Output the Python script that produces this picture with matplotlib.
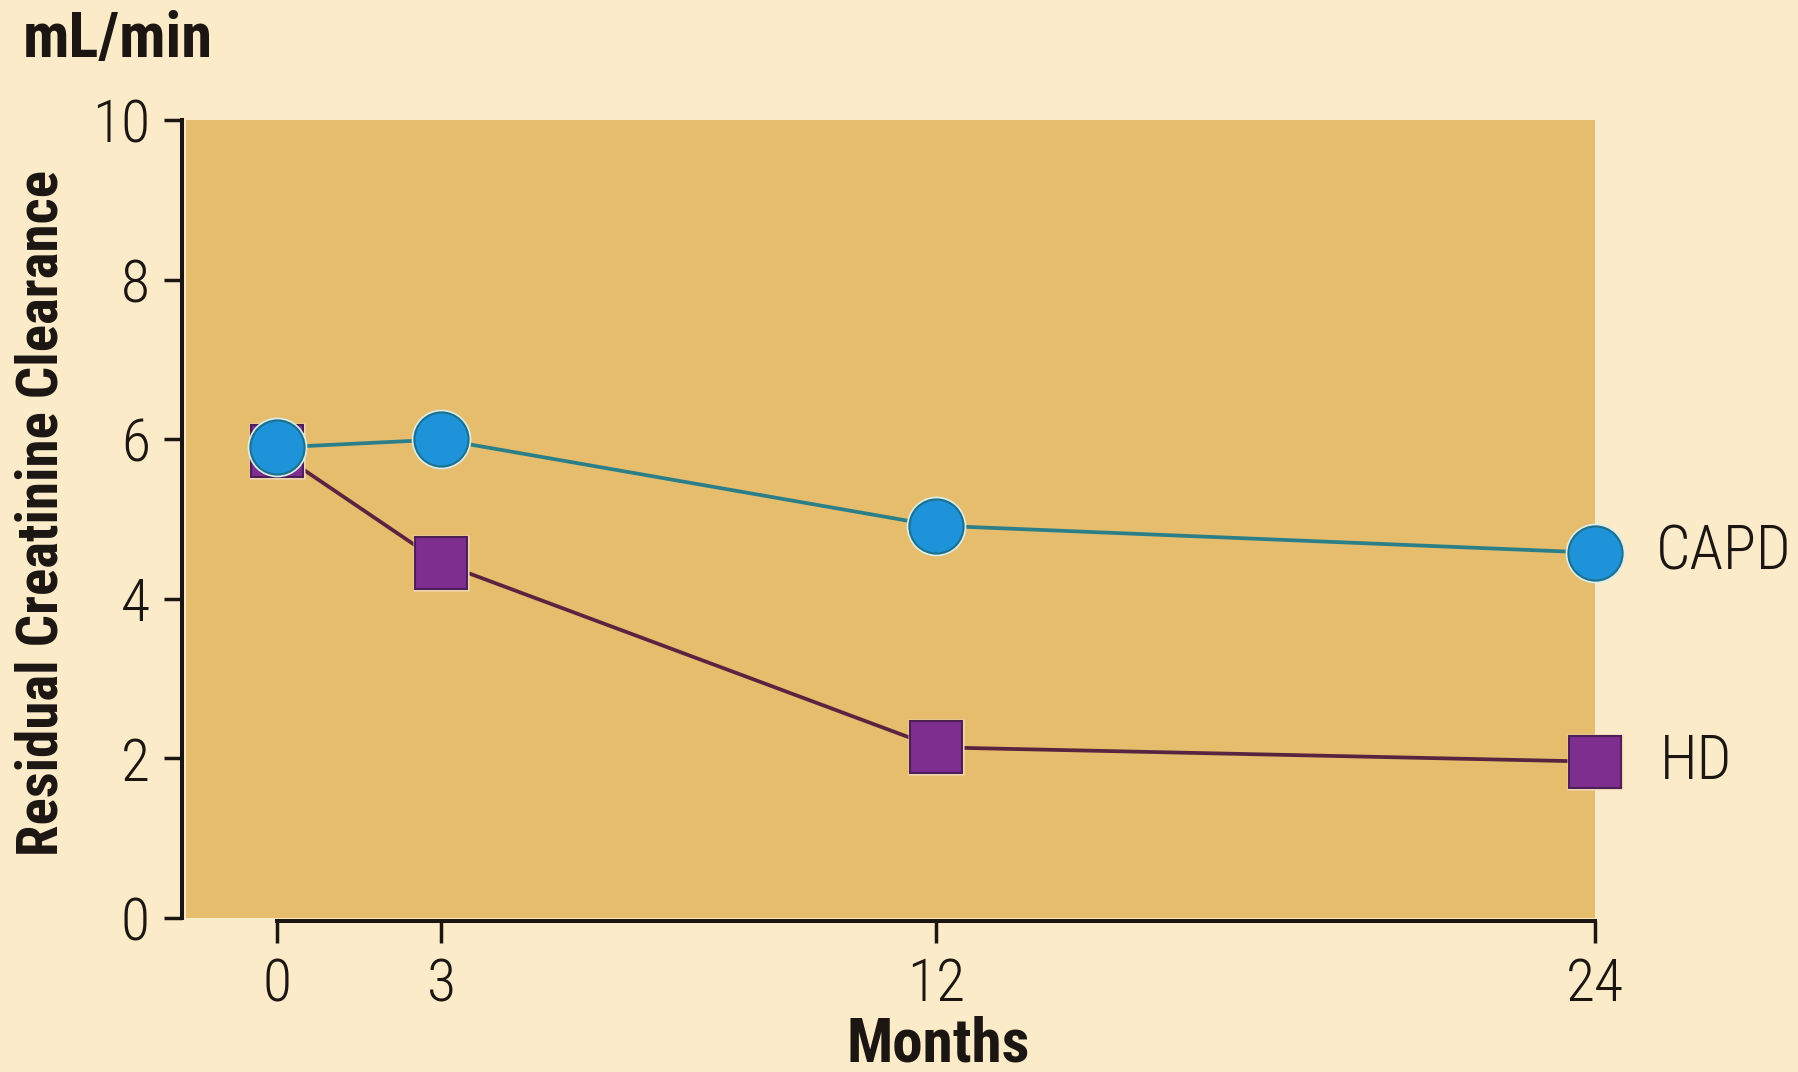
import matplotlib.pyplot as plt

# residual creatinine clearance (mL/min) over time on dialysis
months = [0, 3, 12, 24]
capd = [5.9, 6.0, 4.92, 4.58]
hd = [5.85, 4.45, 2.14, 1.96]
y_ticks = [0, 2, 4, 6, 8, 10]

cream = '#FBEBC8'
tan = '#E5BD6C'
ink = '#1C1612'
FONT = ['Roboto Condensed', 'Liberation Sans', 'DejaVu Sans']

fig = plt.figure(figsize=(17.99, 10.72), dpi=100, facecolor=cream)
ax = fig.add_axes([0.1034, 0.1437, 0.7832, 0.7439])
ax.set_facecolor(tan)
ax.set_xlim(-1.65, 24)
ax.set_ylim(0, 10)

# connecting lines
ax.plot(months, hd, color='#5A2440', lw=2.7, zorder=3, clip_on=False)
ax.plot(months, capd, color='#2B7F88', lw=2.7, zorder=3, clip_on=False)

# markers with a pale halo behind each
ax.plot(months, hd, ls='none', marker='s', ms=41, mfc='#F6DCC0', mec='none',
        zorder=4, clip_on=False)
ax.plot(months, hd, ls='none', marker='s', ms=37, mfc='#7D2E8E', mec='#4E1F55',
        mew=1.5, zorder=5, clip_on=False)
ax.plot(months, capd, ls='none', marker='o', ms=43, mfc='#D8EEF0', mec='none',
        zorder=6, clip_on=False)
ax.plot(months, capd, ls='none', marker='o', ms=39, mfc='#1E93DA', mec='#1F6F86',
        mew=1.5, zorder=7, clip_on=False)

ax.annotate('CAPD', xy=(months[-1], capd[-1]), xytext=(44, 0),
            textcoords='offset points', va='center', ha='left',
            fontsize=44, fontweight='light', family=FONT, color=ink)
ax.annotate('HD', xy=(months[-1], hd[-1]), xytext=(47, 0),
            textcoords='offset points', va='center', ha='left',
            fontsize=44, fontweight='light', family=FONT, color=ink)

# axes styling
for side in ['top', 'right']:
    ax.spines[side].set_visible(False)
ax.spines['left'].set_position(('outward', 3))
ax.spines['left'].set_bounds(0, 10)
ax.spines['bottom'].set_position(('outward', 2))
ax.spines['bottom'].set_bounds(0, 24)
for side in ['left', 'bottom']:
    ax.spines[side].set_linewidth(2.9)
    ax.spines[side].set_color(ink)

ax.set_xticks(months)
ax.set_yticks(y_ticks)
ax.set_xticklabels([str(m) for m in months], family=FONT, fontweight='light')
ax.set_yticklabels([str(v) for v in y_ticks], family=FONT, fontweight='light')
ax.tick_params(axis='y', length=13, width=2.5, pad=10, labelsize=43,
               color=ink, labelcolor=ink)
ax.tick_params(axis='x', length=16, width=2.5, pad=10, labelsize=43,
               color=ink, labelcolor=ink)

fig.text(0.0235, 0.5215, 'Residual Creatinine Clearance', rotation=90,
         ha='center', va='center', fontsize=41, fontweight='bold',
         family=FONT, color=ink)
fig.text(0.5214, 0.026, 'Months', ha='center', va='center', fontsize=44,
         fontweight='bold', family=FONT, color=ink)
fig.text(0.0128, 0.9627, 'mL/min', ha='left', va='center', fontsize=45,
         fontweight='bold', family=FONT, color=ink)

fig.savefig('out.png', dpi=100, facecolor=cream)
